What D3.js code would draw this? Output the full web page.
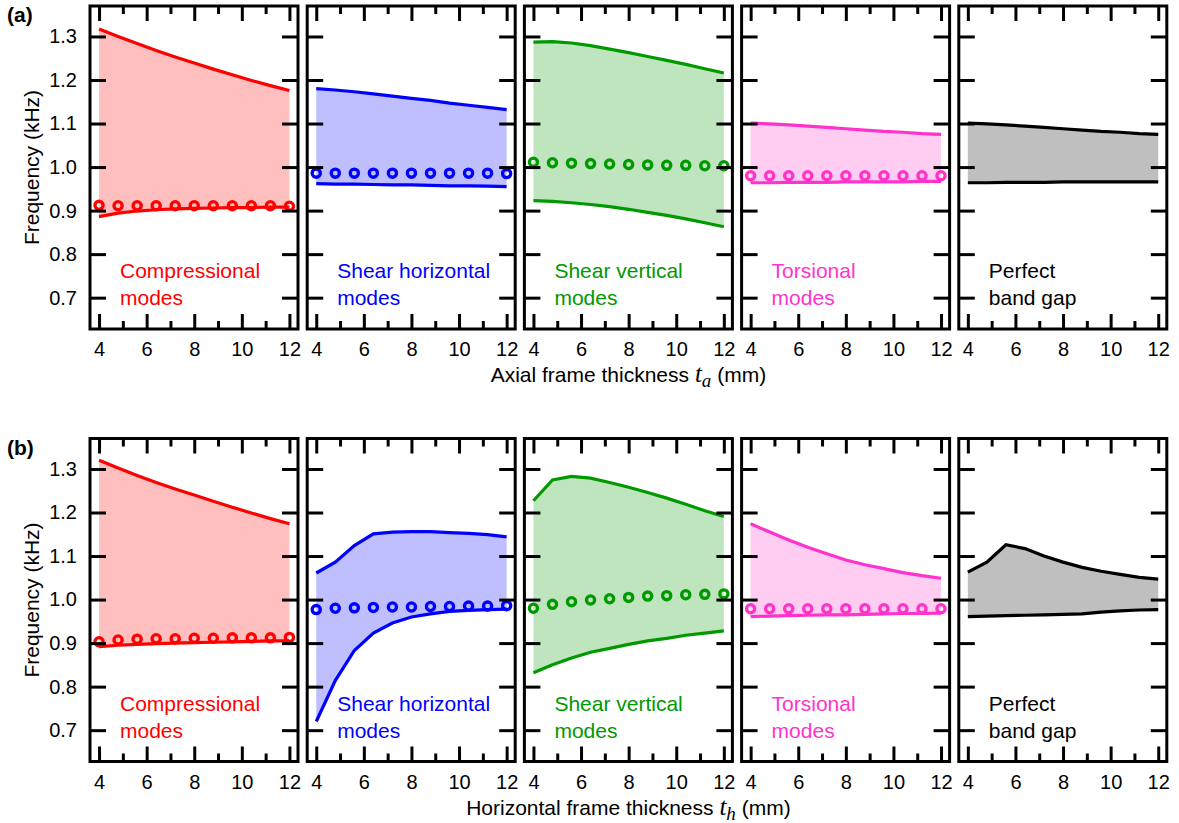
<!DOCTYPE html>
<html>
<head>
<meta charset="utf-8">
<script src="https://cdn.jsdelivr.net/npm/d3@7"></script>
<style>
  body { margin: 0; background: #fff; }
  text { font-family: "Liberation Sans", Arial, sans-serif; }
</style>
</head>
<body>
<svg id="svg"></svg>
<script>
// frame thickness samples (mm)
var thickness = [4, 4.8, 5.6, 6.4, 7.2, 8, 8.8, 9.6, 10.4, 11.2, 12];

var xMajor = [4, 6, 8, 10, 12];
var xMinor = [5, 7, 9, 11];
var yTicks = [0.7, 0.8, 0.9, 1.0, 1.1, 1.2, 1.3];

var modeNames = [['Compressional', 'modes'], ['Shear horizontal', 'modes'],
  ['Shear vertical', 'modes'], ['Torsional', 'modes'], ['Perfect', 'band gap']];
var modeColors = ['#ff0000', '#0000ff', '#009900', '#ff33cc', '#000000'];

// (a) axial frame thickness
var compUpperA = [1.317, 1.300, 1.284, 1.268, 1.253, 1.239, 1.225, 1.212, 1.199, 1.187, 1.176];
var compLowerA = [0.886, 0.894, 0.899, 0.902, 0.904, 0.905, 0.906, 0.907, 0.907, 0.908, 0.908];
var compDotsA = [0.912, 0.911, 0.911, 0.911, 0.911, 0.911, 0.911, 0.911, 0.911, 0.911, 0.910];
var shUpperA = [1.180, 1.177, 1.173, 1.168, 1.163, 1.158, 1.153, 1.147, 1.142, 1.137, 1.132];
var shLowerA = [0.962, 0.961, 0.961, 0.960, 0.959, 0.959, 0.958, 0.957, 0.957, 0.956, 0.955];
var shDotsA = [0.986, 0.986, 0.986, 0.986, 0.986, 0.986, 0.986, 0.986, 0.986, 0.986, 0.985];
var svUpperA = [1.287, 1.288, 1.285, 1.279, 1.271, 1.263, 1.254, 1.245, 1.236, 1.226, 1.216];
var svLowerA = [0.923, 0.921, 0.918, 0.914, 0.909, 0.903, 0.896, 0.889, 0.881, 0.872, 0.863];
var svDotsA = [1.011, 1.010, 1.009, 1.008, 1.007, 1.006, 1.005, 1.004, 1.004, 1.003, 1.003];
var torUpperA = [1.101, 1.099, 1.097, 1.094, 1.091, 1.088, 1.085, 1.082, 1.080, 1.077, 1.075];
var torLowerA = [0.964, 0.964, 0.965, 0.965, 0.965, 0.966, 0.966, 0.966, 0.966, 0.967, 0.967];
var torDotsA = [0.980, 0.980, 0.980, 0.980, 0.980, 0.980, 0.980, 0.980, 0.980, 0.980, 0.980];
var gapUpperA = [1.101, 1.099, 1.097, 1.094, 1.091, 1.088, 1.085, 1.082, 1.080, 1.077, 1.075];
var gapLowerA = [0.964, 0.964, 0.965, 0.965, 0.965, 0.966, 0.966, 0.966, 0.966, 0.966, 0.966];

// (b) horizontal frame thickness
var compUpperB = [1.320, 1.302, 1.285, 1.269, 1.254, 1.240, 1.226, 1.212, 1.199, 1.186, 1.174];
var compLowerB = [0.892, 0.895, 0.897, 0.899, 0.900, 0.901, 0.902, 0.903, 0.904, 0.905, 0.905];
var compDotsB = [0.903, 0.907, 0.909, 0.910, 0.910, 0.911, 0.911, 0.912, 0.912, 0.912, 0.913];
var shUpperB = [1.061, 1.086, 1.124, 1.151, 1.155, 1.156, 1.156, 1.154, 1.152, 1.149, 1.144];
var shLowerB = [0.720, 0.814, 0.883, 0.923, 0.946, 0.960, 0.967, 0.973, 0.975, 0.977, 0.978];
var shDotsB = [0.977, 0.980, 0.981, 0.982, 0.983, 0.983, 0.984, 0.984, 0.985, 0.985, 0.986];
var svUpperB = [1.227, 1.275, 1.283, 1.279, 1.269, 1.258, 1.246, 1.233, 1.219, 1.204, 1.191];
var svLowerB = [0.832, 0.850, 0.866, 0.879, 0.888, 0.897, 0.905, 0.911, 0.918, 0.923, 0.928];
var svDotsB = [0.980, 0.989, 0.995, 0.999, 1.002, 1.005, 1.008, 1.009, 1.011, 1.012, 1.013];
var torUpperB = [1.174, 1.155, 1.137, 1.120, 1.105, 1.091, 1.080, 1.071, 1.062, 1.055, 1.049];
var torLowerB = [0.961, 0.962, 0.963, 0.964, 0.965, 0.965, 0.966, 0.967, 0.968, 0.968, 0.969];
var torDotsB = [0.979, 0.979, 0.979, 0.979, 0.979, 0.979, 0.979, 0.979, 0.979, 0.979, 0.979];
var gapUpperB = [1.063, 1.086, 1.126, 1.117, 1.100, 1.086, 1.074, 1.065, 1.058, 1.051, 1.047];
var gapLowerB = [0.961, 0.962, 0.963, 0.964, 0.965, 0.966, 0.967, 0.971, 0.974, 0.976, 0.977];

var rows = [
  { tag: '(a)', sub: 'a', title: 'Axial frame thickness ',
    upper: [compUpperA, shUpperA, svUpperA, torUpperA, gapUpperA],
    lower: [compLowerA, shLowerA, svLowerA, torLowerA, gapLowerA],
    dots: [compDotsA, shDotsA, svDotsA, torDotsA, null] },
  { tag: '(b)', sub: 'h', title: 'Horizontal frame thickness ',
    upper: [compUpperB, shUpperB, svUpperB, torUpperB, gapUpperB],
    lower: [compLowerB, shLowerB, svLowerB, torLowerB, gapLowerB],
    dots: [compDotsB, shDotsB, svDotsB, torDotsB, null] }
];

var width = 1179, height = 823;
var panelW = 208, panelH = 323, panelStep = 217.2, left0 = 90;
var rowTops = [6, 438.5];

var svg = d3.select('#svg').attr('width', width).attr('height', height);

var x = d3.scaleLinear().domain([3.62, 12.36]).range([0, panelW]);
var y = d3.scaleLinear().domain([0.628, 1.37]).range([panelH, 0]);

var area = d3.area()
  .x(function (d) { return x(d.t); })
  .y0(function (d) { return y(d.lo); })
  .y1(function (d) { return y(d.hi); });
var line = d3.line()
  .x(function (d, i) { return x(thickness[i]); })
  .y(function (d) { return y(d); });

rows.forEach(function (row, r) {
  var top = rowTops[r];

  for (var p = 0; p < 5; ++p) {
    var col = modeColors[p];
    var g = svg.append('g')
      .attr('transform', 'translate(' + (left0 + p * panelStep) + ',' + top + ')');

    var band = thickness.map(function (t, i) {
      return { t: t, lo: row.lower[p][i], hi: row.upper[p][i] };
    });
    g.append('path').attr('d', area(band))
      .attr('fill', col).attr('fill-opacity', 0.25).attr('stroke', 'none');
    [row.upper[p], row.lower[p]].forEach(function (s) {
      g.append('path').attr('d', line(s))
        .attr('fill', 'none').attr('stroke', col).attr('stroke-width', 3.2);
    });
    if (row.dots[p]) {
      g.selectAll('circle.dot').data(row.dots[p]).enter().append('circle')
        .attr('class', 'dot')
        .attr('cx', function (d, i) { return x(thickness[i]); })
        .attr('cy', function (d) { return y(d); })
        .attr('r', 4.1)
        .attr('fill', 'none').attr('stroke', col).attr('stroke-width', 3.3);
    }

    // mode label
    var lbl = g.append('text').attr('fill', col).style('font-size', '21px');
    modeNames[p].forEach(function (s, k) {
      lbl.append('tspan').attr('x', 30).attr('y', 272 + k * 27).text(s);
    });

    // ticks, all pointing inward
    g.append('g').attr('transform', 'translate(0,' + panelH + ')')
      .call(d3.axisBottom(x).tickValues(xMajor).tickSizeInner(-15).tickSizeOuter(0).tickPadding(13));
    g.append('g').attr('transform', 'translate(0,' + panelH + ')')
      .call(d3.axisBottom(x).tickValues(xMinor).tickSizeInner(-8).tickSizeOuter(0).tickFormat(''));
    g.append('g').call(d3.axisTop(x).tickValues(xMajor).tickSizeInner(-15).tickSizeOuter(0).tickFormat(''));
    g.append('g').call(d3.axisTop(x).tickValues(xMinor).tickSizeInner(-8).tickSizeOuter(0).tickFormat(''));
    g.append('g')
      .call(d3.axisLeft(y).tickValues(yTicks).tickSizeInner(-16).tickSizeOuter(0).tickPadding(13)
        .tickFormat(p === 0 ? d3.format('.1f') : ''));
    g.append('g').attr('transform', 'translate(' + panelW + ',0)')
      .call(d3.axisRight(y).tickValues(yTicks).tickSizeInner(-16).tickSizeOuter(0).tickFormat(''));

    g.selectAll('.domain').remove();
    g.selectAll('.tick line').attr('stroke', '#000').attr('stroke-width', 3);
    g.selectAll('.tick text').attr('fill', '#000')
      .style('font-family', '"Liberation Sans", Arial, sans-serif').style('font-size', '20px');

    g.append('rect').attr('width', panelW).attr('height', panelH)
      .attr('fill', 'none').attr('stroke', '#000').attr('stroke-width', 3);
  }

  // panel tag
  svg.append('text').attr('x', 7).attr('y', top + 16)
    .style('font-size', '21px').style('font-weight', 'bold').text(row.tag);

  // y title
  svg.append('text')
    .attr('transform', 'translate(39,' + (top + panelH / 2) + ') rotate(-90)')
    .attr('text-anchor', 'middle').style('font-size', '21px')
    .text('Frequency (kHz)');

  // x title
  var xt = svg.append('text')
    .attr('x', left0 + (4 * panelStep + panelW) / 2).attr('y', top + panelH + 53)
    .attr('text-anchor', 'middle').style('font-size', '21px');
  xt.append('tspan').text(row.title);
  xt.append('tspan').style('font-family', '"Liberation Serif", "DejaVu Serif", serif')
    .style('font-style', 'italic').style('font-size', '25px').text('t');
  xt.append('tspan').attr('dy', 5).style('font-family', '"Liberation Serif", "DejaVu Serif", serif')
    .style('font-style', 'italic').style('font-size', '19px').text(row.sub);
  xt.append('tspan').attr('dy', -5).text(' (mm)');
});
</script>
</body>
</html>
